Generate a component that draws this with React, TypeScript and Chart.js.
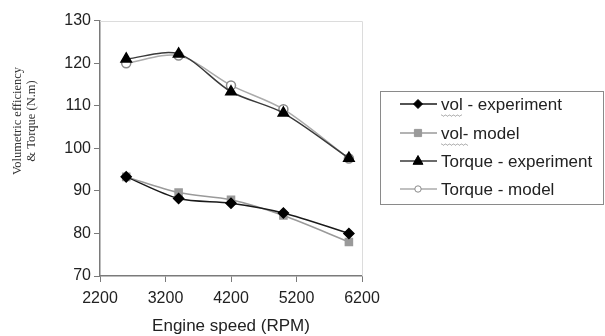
import React, { useEffect, useRef } from "react";
import { Chart, registerables } from "chart.js";

Chart.register(...registerables);

const rpm = [2600, 3400, 4200, 5000, 6000];
const volExperiment = [93.3, 88.2, 87.1, 84.8, 80.0];
const volModel = [93.3, 89.6, 87.9, 84.2, 78.0];
const torqueExperiment = [121.0, 122.2, 113.3, 108.3, 97.7];
const torqueModel = [120.0, 121.8, 114.8, 109.2, 97.6];

const seriesNames = ["vol - experiment", "vol- model", "Torque - experiment", "Torque - model"];
const xTitle = "Engine speed (RPM)";
const yTitleLines = ["Volumetric efficiency", "& Torque (N.m)"];

const toPoints = (ys: number[]) => rpm.map((x, i) => ({ x, y: ys[i] }));

const decorPlugin = {
  id: "decor",
  afterDraw(chart: any) {
    const ctx = chart.ctx as CanvasRenderingContext2D;
    const area = chart.chartArea;
    ctx.save();
    // light frame on top and right
    ctx.strokeStyle = "#dcdcdc";
    ctx.lineWidth = 1;
    ctx.beginPath();
    ctx.moveTo(area.left, Math.round(area.top) + 0.5);
    ctx.lineTo(Math.round(area.right) + 0.5, Math.round(area.top) + 0.5);
    ctx.lineTo(Math.round(area.right) + 0.5, area.bottom);
    ctx.stroke();

    // x title
    ctx.fillStyle = "#222";
    ctx.font = "17px 'Liberation Sans', Arial, sans-serif";
    ctx.textAlign = "center";
    ctx.textBaseline = "middle";
    ctx.fillText(xTitle, (area.left + area.right) / 2, 326);

    // y title (serif, two lines, rotated)
    ctx.font = "12.5px 'Liberation Serif', 'Times New Roman', serif";
    ctx.fillStyle = "#333";
    const cy = 121;
    [18, 32].forEach((x, i) => {
      ctx.save();
      ctx.translate(x, cy);
      ctx.rotate(-Math.PI / 2);
      ctx.fillText(yTitleLines[i], 0, 0);
      ctx.restore();
    });

    // legend box
    const bx = 380.5, by = 91.5, bw = 223, bh = 113;
    ctx.strokeStyle = "#8a8a8a";
    ctx.lineWidth = 1;
    ctx.strokeRect(bx, by, bw, bh);
    const rows = [104, 133, 161, 189];
    const datasets = chart.data.datasets;
    ctx.font = "17px 'Liberation Sans', Arial, sans-serif";
    ctx.textAlign = "left";
    rows.forEach((ry, i) => {
      const ds = datasets[i];
      ctx.strokeStyle = ds.borderColor;
      ctx.lineWidth = ds.borderWidth;
      ctx.beginPath();
      ctx.moveTo(400, ry);
      ctx.lineTo(437, ry);
      ctx.stroke();
      const mx = 418;
      ctx.fillStyle = ds.pointBackgroundColor;
      ctx.strokeStyle = ds.pointBorderColor;
      ctx.lineWidth = 1;
      const r = ds.pointRadius - 0.5;
      ctx.beginPath();
      if (ds.pointStyle === "rectRot") {
        ctx.moveTo(mx, ry - r); ctx.lineTo(mx + r, ry); ctx.lineTo(mx, ry + r); ctx.lineTo(mx - r, ry); ctx.closePath();
      } else if (ds.pointStyle === "rect") {
        ctx.rect(mx - r * 0.8, ry - r * 0.8, r * 1.6, r * 1.6);
      } else if (ds.pointStyle === "triangle") {
        ctx.moveTo(mx, ry - r); ctx.lineTo(mx + r * 0.9, ry + r * 0.6); ctx.lineTo(mx - r * 0.9, ry + r * 0.6); ctx.closePath();
      } else {
        ctx.arc(mx, ry, r * 0.8, 0, Math.PI * 2);
      }
      ctx.fill();
      ctx.stroke();
      ctx.fillStyle = "#222";
      ctx.fillText(seriesNames[i], 441, ry + 1);
      if (i < 2) {
        // spell-check style squiggle under "vol"
        const w = ctx.measureText(i === 0 ? "vol" : "vol-").width;
        ctx.strokeStyle = "#b0b0b0";
        ctx.lineWidth = 1;
        ctx.beginPath();
        for (let x = 0; x <= w; x += 1) {
          const yy = ry + 11 + (Math.floor(x / 2) % 2 === 0 ? 0 : 1.2);
          if (x === 0) ctx.moveTo(441 + x, yy); else ctx.lineTo(441 + x, yy);
        }
        ctx.stroke();
      }
    });
    ctx.restore();
  },
};

export default function App() {
  const ref = useRef<HTMLCanvasElement | null>(null);
  useEffect(() => {
    if (!ref.current) return;
    const axisColor = "#7a7a7a";
    const tickFont = { family: "'Liberation Sans', Arial, sans-serif", size: 16 };
    const chart = new Chart(ref.current, {
      type: "line",
      data: {
        datasets: [
          {
            label: seriesNames[0],
            data: toPoints(volExperiment),
            borderColor: "#1a1a1a",
            borderWidth: 1.5,
            pointStyle: "rectRot",
            pointRadius: 5,
            pointBackgroundColor: "#000",
            pointBorderColor: "#000",
            tension: 0.3,
          },
          {
            label: seriesNames[1],
            data: toPoints(volModel),
            borderColor: "#9a9a9a",
            borderWidth: 1.5,
            pointStyle: "rect",
            pointRadius: 5,
            pointBackgroundColor: "#9a9a9a",
            pointBorderColor: "#9a9a9a",
            tension: 0.3,
          },
          {
            label: seriesNames[2],
            data: toPoints(torqueExperiment),
            borderColor: "#3a3a3a",
            borderWidth: 1.5,
            pointStyle: "triangle",
            pointRadius: 6,
            pointBackgroundColor: "#000",
            pointBorderColor: "#000",
            tension: 0.3,
          },
          {
            label: seriesNames[3],
            data: toPoints(torqueModel),
            borderColor: "#ababab",
            borderWidth: 1.5,
            pointStyle: "circle",
            pointRadius: 4.5,
            pointBackgroundColor: "#fff",
            pointBorderColor: "#8a8a8a",
            tension: 0.3,
          },
        ],
      },
      options: {
        animation: false,
        responsive: false,
        devicePixelRatio: 1,
        layout: { padding: { top: 20.7, right: 243, left: 0, bottom: 0 } },
        plugins: { legend: { display: false }, tooltip: { enabled: false } },
        scales: {
          x: {
            type: "linear",
            min: 2200,
            max: 6200,
            ticks: { stepSize: 1000, color: "#222", font: tickFont, padding: 7, callback: (v: any) => String(v) },
            grid: { drawOnChartArea: false, drawTicks: true, tickLength: 6, color: axisColor },
            border: { color: axisColor, width: 1.5 },
            afterFit: (s: any) => { s.height = 60; },
          },
          y: {
            min: 70,
            max: 130,
            ticks: { stepSize: 10, color: "#222", font: tickFont, padding: 3, callback: (v: any) => String(v) },
            grid: { drawOnChartArea: false, drawTicks: true, tickLength: 6, color: axisColor },
            border: { color: axisColor, width: 1.5 },
            afterFit: (s: any) => { s.width = 100; },
          },
        },
      },
      plugins: [decorPlugin],
    } as any);
    return () => chart.destroy();
  }, []);
  return (
    <div style={{ position: "absolute", left: 0, top: 0, width: 605, height: 336, background: "#fff" }}>
      <canvas ref={ref} width={605} height={336} style={{ display: "block", width: 605, height: 336 }} />
    </div>
  );
}
